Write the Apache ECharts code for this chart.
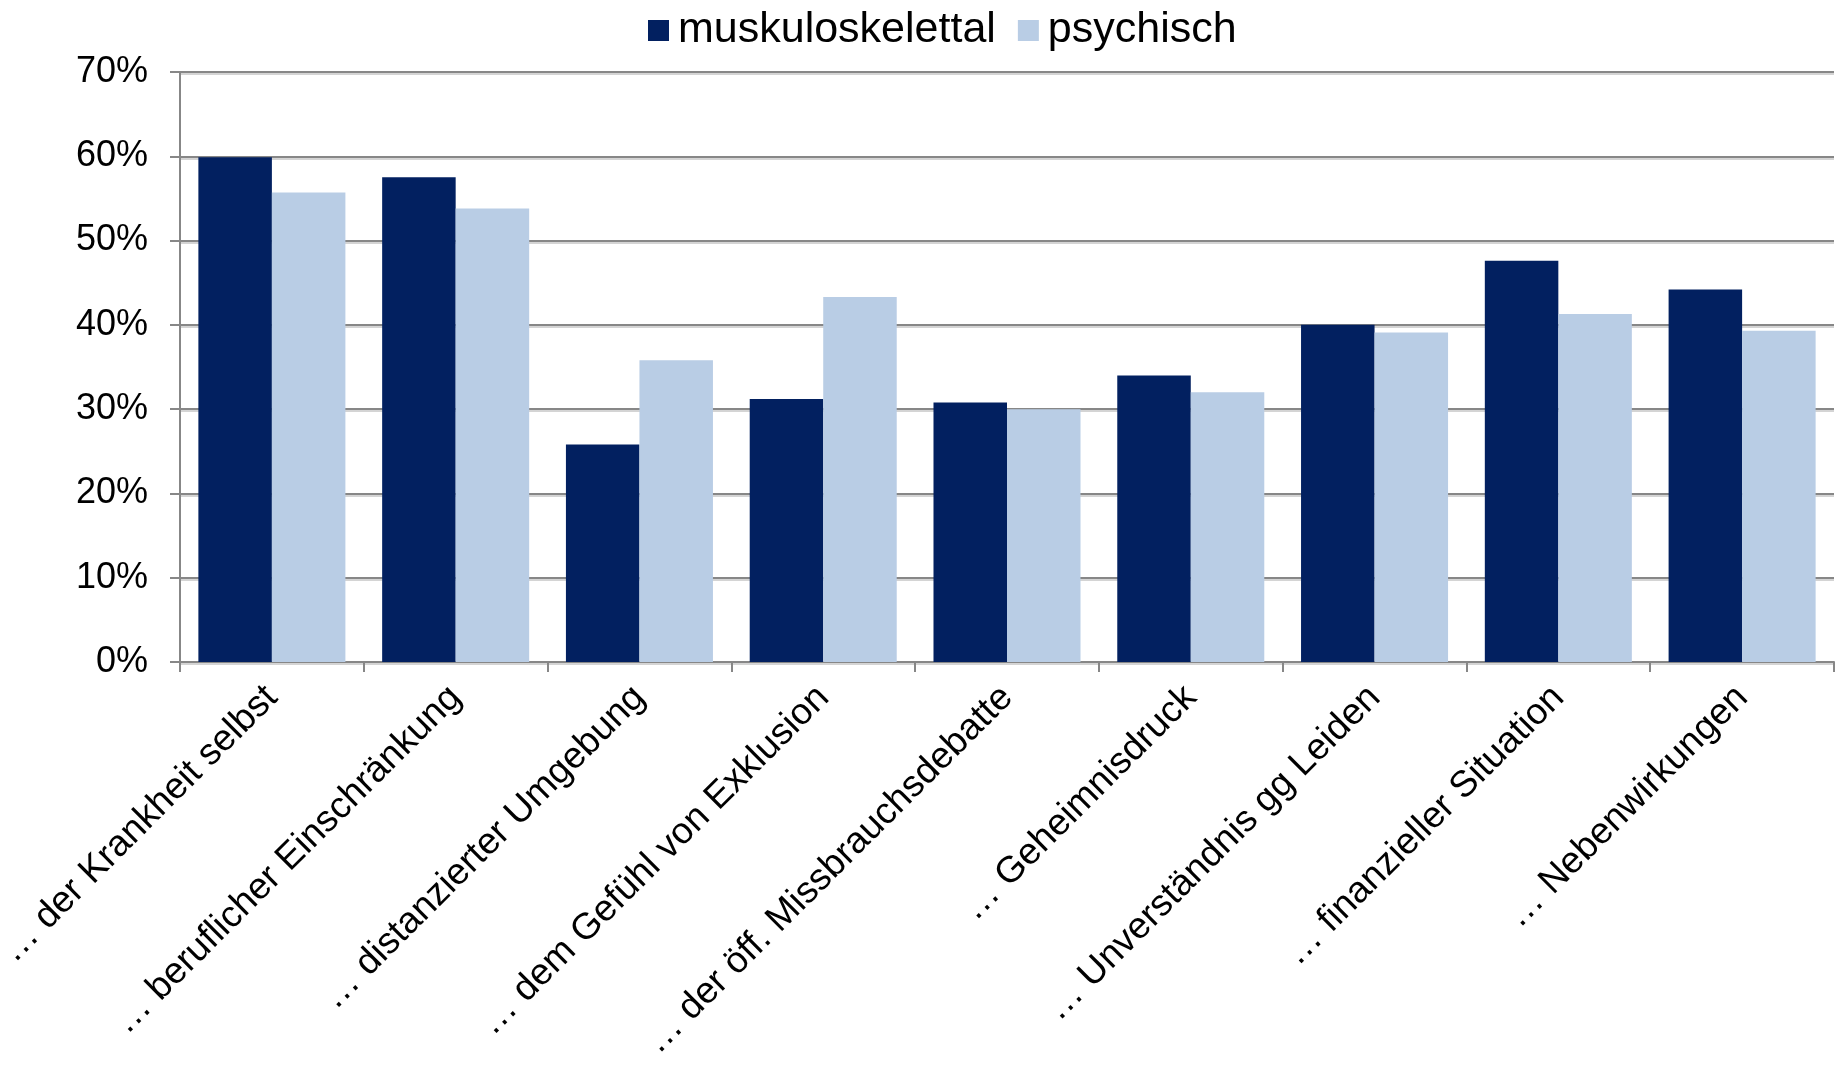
<!DOCTYPE html>
<html>
<head>
<meta charset="utf-8">
<script src="https://cdn.jsdelivr.net/npm/echarts@6/dist/echarts.min.js"></script>
<style>
  html, body { margin: 0; padding: 0; background: #fff; }
  #chart { width: 1836px; height: 1071px; }
</style>
</head>
<body>
<div id="chart"></div>
<script>
// Kategorien und Werte (Prozent)
var categories = [
  '\u2026 der Krankheit selbst',
  '\u2026 beruflicher Einschr\u00e4nkung',
  '\u2026 distanzierter Umgebung',
  '\u2026 dem Gef\u00fchl von Exklusion',
  '\u2026 der \u00f6ff. Missbrauchsdebatte',
  '\u2026 Geheimnisdruck',
  '\u2026 Unverst\u00e4ndnis gg Leiden',
  '\u2026 finanzieller Situation',
  '\u2026 Nebenwirkungen'
];
var seriesNames = ['muskuloskelettal', 'psychisch'];
var muskuloskelettal = [59.9, 57.5, 25.8, 31.2, 30.8, 34.0, 40.0, 47.6, 44.2];
var psychisch = [55.7, 53.8, 35.8, 43.3, 30.0, 32.0, 39.1, 41.3, 39.3];
var yTicks = [0, 10, 20, 30, 40, 50, 60, 70];

(function() {
  var dark = '#022060';
  var light = '#b9cde5';
  var axisGray = '#878787';
  var font = '"Liberation Sans", Arial, sans-serif';

  var chart = echarts.init(document.getElementById('chart'), null, { renderer: 'canvas' });
  chart.setOption({
    animation: false,
    textStyle: { fontFamily: font },
    legend: {
      data: seriesNames,
      top: 4,
      left: 643,
      icon: 'rect',
      itemWidth: 21,
      itemHeight: 21,
      itemGap: 22,
      textStyle: { fontSize: 43, color: '#000', fontFamily: font, padding: [0, 0, 0, 4] }
    },
    grid: { left: 180, right: 2, top: 72, bottom: 409, outerBoundsMode: 'none' },
    xAxis: {
      type: 'category',
      data: categories,
      axisLine: { lineStyle: { color: axisGray, width: 2 } },
      axisTick: { show: true, length: 10, lineStyle: { color: axisGray, width: 2 } },
      axisLabel: {
        rotate: 45,
        interval: 0,
        margin: 30,
        fontSize: 37,
        color: '#000',
        fontFamily: font
      }
    },
    yAxis: {
      type: 'value',
      min: yTicks[0],
      max: yTicks[yTicks.length - 1],
      interval: 10,
      axisLine: { show: true, lineStyle: { color: axisGray, width: 2 } },
      axisTick: { show: true, length: 10, lineStyle: { color: axisGray, width: 2 } },
      axisLabel: {
        formatter: '{value}%',
        margin: 32,
        fontSize: 36,
        color: '#000',
        fontFamily: font
      },
      splitLine: {
        lineStyle: {
          color: axisGray, width: 2,
          shadowColor: '#d4d4d4', shadowOffsetY: 2, shadowBlur: 0
        }
      }
    },
    series: [
      {
        name: seriesNames[0],
        type: 'bar',
        data: muskuloskelettal,
        barGap: '0%',
        barCategoryGap: '20%',
        itemStyle: { color: dark }
      },
      {
        name: seriesNames[1],
        type: 'bar',
        data: psychisch,
        barGap: '0%',
        barCategoryGap: '20%',
        itemStyle: { color: light }
      }
    ]
  });
  window.addEventListener('resize', function() { chart.resize(); });
})();
</script>
</body>
</html>
